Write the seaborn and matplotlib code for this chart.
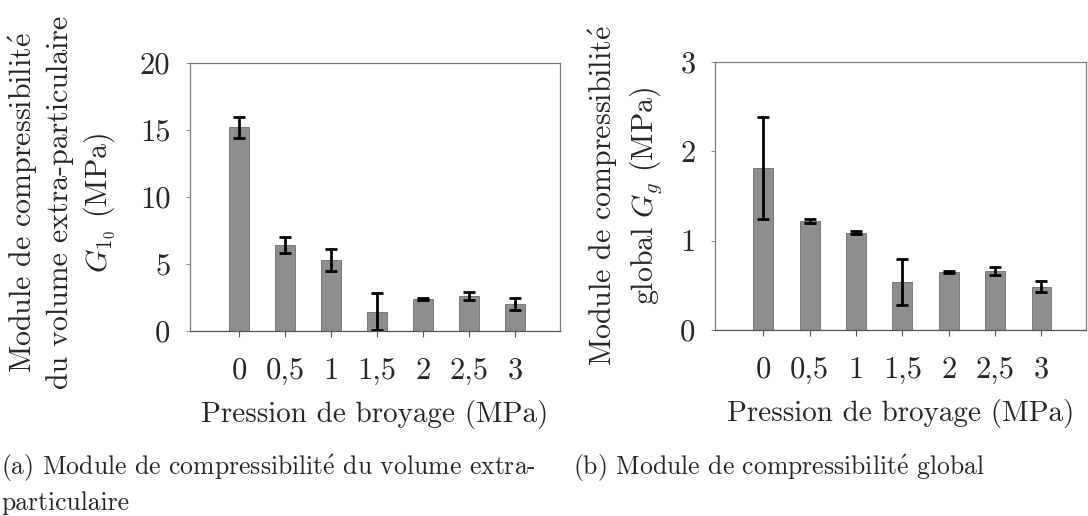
import numpy as np
import seaborn as sns
import matplotlib
matplotlib.use("Agg")
import matplotlib.pyplot as plt

# --- data
pressions = ['0', '0,5', '1', '1,5', '2', '2,5', '3']
g10 = [15.2, 6.4, 5.3, 1.45, 2.38, 2.6, 2.03]
g10_err = [0.8, 0.6, 0.85, 1.4, 0.05, 0.3, 0.45]
gg = [1.81, 1.22, 1.09, 0.54, 0.645, 0.66, 0.485]
gg_err = [0.57, 0.02, 0.015, 0.26, 0.012, 0.04, 0.065]

yticks_a = [0, 5, 10, 15, 20]
yticks_b = [0, 1, 2, 3]

sns.set_style("white")
plt.rcParams['font.family'] = ['cmr10', 'DejaVu Serif']
plt.rcParams['mathtext.fontset'] = 'cm'
plt.rcParams['axes.formatter.use_mathtext'] = True

# cmr10 has no precomposed é, build it with mathtext
E = r'$\mathrm{\acute{e}}$'

bar_col = '#8e8e8e'
frame_col = '#7a7a7a'

fig = plt.figure(figsize=(10.88, 5.16), dpi=100)
ax_a = fig.add_axes([190/1088, 1-331/516, 370/1088, 268/516])
ax_b = fig.add_axes([715/1088, 1-330/516, 371/1088, 268/516])


def draw(ax, vals, errs, yticks, ylabel, label_x, label_y, xlim):
    sns.barplot(x=pressions, y=vals, color=bar_col, width=0.43, saturation=1,
                edgecolor='#6c6c6c', linewidth=0.6, ax=ax)
    xs = [p.get_x() + p.get_width()/2 for p in ax.patches]
    ax.errorbar(xs, vals, yerr=errs, fmt='none', ecolor='black',
                elinewidth=2, capsize=4, capthick=2)
    ax.set_ylim(yticks[0], yticks[-1])
    ax.set_xlim(*xlim)
    ax.set_yticks(yticks)
    ax.set_yticklabels([str(t) for t in yticks])
    for s in ax.spines.values():
        s.set_visible(True)
        s.set_color(frame_col)
        s.set_linewidth(0.9)
    ax.spines['bottom'].set_color('#555555')
    ax.tick_params(axis='x', bottom=True, length=4, width=0.8, color='#555555',
                   pad=15, labelsize=22)
    ax.tick_params(axis='y', left=True, length=3, width=0.6, color=frame_col,
                   pad=11, labelsize=22)
    ax.set_xlabel('Pression de broyage (MPa)', fontsize=21, labelpad=11)
    ax.set_ylabel(ylabel, fontsize=21.5, ha='center', va='center',
                  multialignment='center', linespacing=1.3)
    ax.yaxis.set_label_coords(label_x, label_y)


draw(ax_a, g10, g10_err, yticks_a,
     'Module de compressibilit' + E + '\ndu volume extra-particulaire\n$G_{1_0}$ (MPa)',
     -128/370, 0.48, (-1.07, 6.98))
draw(ax_b, gg, gg_err, yticks_b,
     'Module de compressibilit' + E + '\nglobal $G_g$ (MPa)',
     -90/371, 0.5, (-1.04, 6.96))

fig.text(1/1088, 1-453/516,
         '(a) Module de compressibilit' + E + ' du volume extra-\nparticulaire',
         fontsize=18.5, va='top', ha='left', linespacing=1.38)
fig.text(573/1088, 1-453/516, '(b) Module de compressibilit' + E + ' global',
         fontsize=18.5, va='top', ha='left')

fig.savefig('out.png', dpi=100)
